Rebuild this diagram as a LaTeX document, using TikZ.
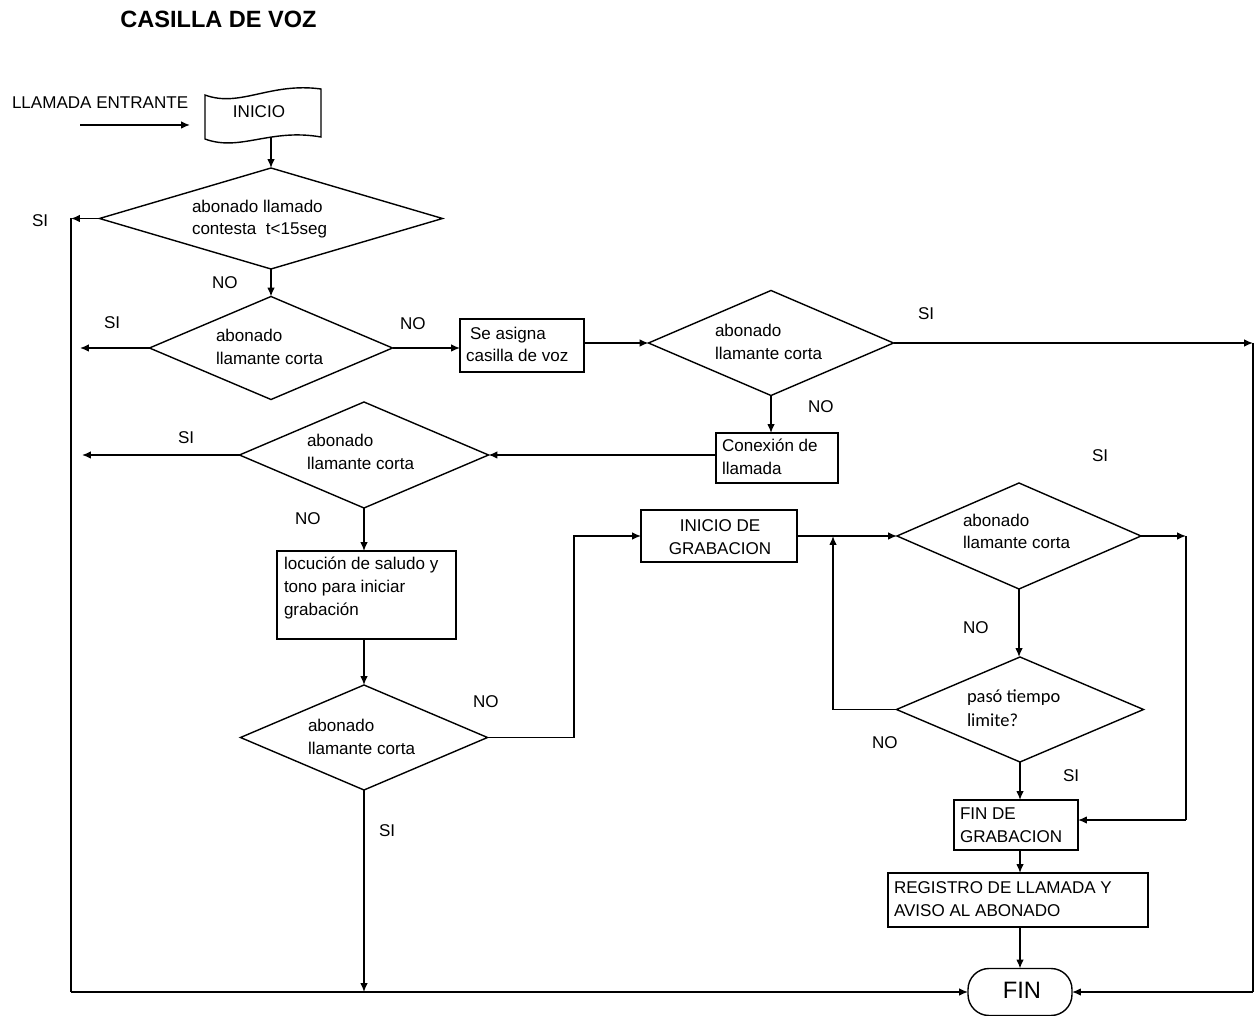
\documentclass[tikz,border=0pt]{standalone}
\usepackage{fontspec}
\setmainfont{Liberation Sans}
\newfontfamily\calibrifont{Carlito}
\usetikzlibrary{shapes.geometric,arrows.meta}
\newdimen\px \px=0.02cm
\begin{document}
\begin{tikzpicture}[x=0.02cm,y=-0.02cm,line width=0.8pt,
  every node/.style={inner sep=0pt,outer sep=0pt},
  txt/.style={anchor=base west,font=\fontsize{9.7}{13}\selectfont},
  ctxt/.style={anchor=base,font=\fontsize{9.7}{13}\selectfont},
  box/.style={draw,rectangle},
  dec/.style={draw,diamond},
  arr/.style={-{Latex[length=5pt,width=4.2pt]}}]
\useasboundingbox (0,0) rectangle (1258,1016);

% title
\node[anchor=base,font=\fontsize{13.4}{15}\selectfont\bfseries] (title) at (218.5,28) {CASILLA DE VOZ};

% start
\node[txt] (entr) at (12,109) {LLAMADA ENTRANTE};
\coordinate (e0) at (80,125);
\coordinate (e1) at (190,125);
\draw[arr] (e0) -- (e1);
\draw (205,95) .. controls (240,108) and (270,82) .. (321,89) -- (321,137)
      .. controls (270,128) and (240,152) .. (205,139) -- cycle;
\node[ctxt] (inicio) at (259,118) {INICIO};
\coordinate (inib) at (271,137);

% decisions and process boxes
\node[dec,minimum width=343\px,minimum height=101\px] (d1) at (271,218.5) {};
\node[dec,minimum width=243\px,minimum height=103\px] (d2) at (271,348) {};
\node[box,minimum width=124\px,minimum height=53\px] (sa) at (522,345.5) {};
\node[dec,minimum width=245\px,minimum height=105\px] (d3) at (771,343) {};
\node[box,minimum width=122\px,minimum height=50\px] (con) at (777,458) {};
\node[dec,minimum width=249\px,minimum height=106\px] (d4) at (364,455) {};
\node[box,minimum width=179\px,minimum height=88\px] (loc) at (366.5,595) {};
\node[dec,minimum width=247\px,minimum height=105\px] (d5) at (364,737.5) {};
\node[box,minimum width=156\px,minimum height=52\px] (ini2) at (719,536) {};
\node[dec,minimum width=244\px,minimum height=106\px] (d6) at (1019,536) {};
\node[dec,minimum width=247\px,minimum height=105\px] (d7) at (1020,709.5) {};
\node[box,minimum width=124\px,minimum height=50\px] (fdg) at (1016,825) {};
\node[box,minimum width=260\px,minimum height=54\px] (reg) at (1018,900) {};
\node[box,rounded corners=21\px,minimum width=104\px,minimum height=47\px] (fin) at (1020,992) {};

% texts
\node[txt] (t1a) at (192,213) {abonado llamado};
\node[txt] (t1b) at (192,235) {contesta\ \ t<15seg};
\node[txt] (t2a) at (216,342) {abonado};
\node[txt] (t2b) at (216,365) {llamante corta};
\node[txt] (tsa1) at (470,340) {Se asigna};
\node[txt] (tsa2) at (466,362) {casilla de voz};
\node[txt] (t3a) at (715,337) {abonado};
\node[txt] (t3b) at (715,360) {llamante corta};
\node[txt] (tc1) at (722,452) {Conexión de};
\node[txt] (tc2) at (722,475) {llamada};
\node[txt] (t4a) at (307,447) {abonado};
\node[txt] (t4b) at (307,470) {llamante corta};
\node[txt] (tl1) at (284,570) {locución de saludo y};
\node[txt] (tl2) at (284,593) {tono para iniciar};
\node[txt] (tl3) at (284,616) {grabación};
\node[txt] (t5a) at (308,731) {abonado};
\node[txt] (t5b) at (308,754) {llamante corta};
\node[ctxt] (ti1) at (720,532) {INICIO DE};
\node[ctxt] (ti2) at (720,555) {GRABACION};
\node[txt] (t6a) at (963,527) {abonado};
\node[txt] (t6b) at (963,549) {llamante corta};
\node[anchor=base west,font=\calibrifont\fontsize{10.5}{13}\selectfont] (t7a) at (967,703) {pasó tiempo};
\node[anchor=base west,font=\calibrifont\fontsize{10.5}{13}\selectfont] (t7b) at (967,726) {limite?};
\node[txt] (tf1) at (960,819) {FIN DE};
\node[txt] (tf2) at (960,842) {GRABACION};
\node[txt] (tr1) at (894,893) {REGISTRO DE LLAMADA Y};
\node[txt] (tr2) at (894,916) {AVISO AL ABONADO};
\node[anchor=base,font=\fontsize{13.5}{15}\selectfont] (tfin) at (1022,998) {FIN};

% branch labels
\node[txt] (si1) at (32,227) {SI};
\node[txt] (no1) at (212,289) {NO};
\node[txt] (si2) at (104,329) {SI};
\node[txt] (no2) at (400,330) {NO};
\node[txt] (si3) at (918,320) {SI};
\node[txt] (no3) at (808,413) {NO};
\node[txt] (si4) at (178,444) {SI};
\node[txt] (no4) at (295,525) {NO};
\node[txt] (no5) at (473,707) {NO};
\node[txt] (si5) at (379,836) {SI};
\node[txt] (si6) at (1092,462) {SI};
\node[txt] (no6) at (963,634) {NO};
\node[txt] (no7) at (872,748) {NO};
\node[txt] (si7) at (1063,781) {SI};

% routing points
\coordinate (sp1) at (71,218.5);
\coordinate (sp2) at (71,992);
\coordinate (x2) at (80,348);
\coordinate (x4) at (82,455);
\coordinate (r1) at (1253,343);
\coordinate (r2) at (1253,992);
\coordinate (c5) at (574,536);
\coordinate (c6a) at (1186,536);
\coordinate (c6b) at (1186,820);
\coordinate (c7a) at (833,709.5);
\coordinate (c7b) at (833,536);

% connectors
\draw[arr] (inib) -- (d1.north);
\draw[arr] (d1.west) -- (sp1);
\draw (sp1) -- (sp2);
\draw[arr] (sp2) -- (fin.west);
\draw[arr] (d1.south) -- (d2.north);
\draw[arr] (d2.west) -- (x2);
\draw[arr] (d2.east) -- (d2.east -| sa.west);
\draw[arr] (d3.west -| sa.east) -- (d3.west);
\draw[arr] (d3.east) -- (r1);
\draw (r1) -- (r2);
\draw[arr] (r2) -- (fin.east);
\draw[arr] (d3.south) -- (d3.south |- con.north);
\draw[arr] (con.west |- d4.east) -- (d4.east);
\draw[arr] (d4.west) -- (x4);
\draw[arr] (d4.south) -- (d4.south |- loc.north);
\draw[arr] (d4.south |- loc.south) -- (d5.north);
\draw[arr] (d5.east) -| (c5) -- (ini2.west);
\draw[arr] (d5.south) -- (d5.south |- sp2);
\draw[arr] (ini2.east) -- (d6.west);
\draw[arr] (d6.east) -- (c6a);
\draw (c6a) -- (c6b);
\draw[arr] (c6b) -- (c6b -| fdg.east);
\draw[arr] (d6.south) -- (d6.south |- d7.north);
\draw (d7.west) -- (c7a);
\draw[arr] (c7a) -- (c7b);
\draw[arr] (d7.south) -- (d7.south |- fdg.north);
\draw[arr] (d7.south |- fdg.south) -- (d7.south |- reg.north);
\draw[arr] (d7.south |- reg.south) -- (fin.north);
\end{tikzpicture}
\end{document}
